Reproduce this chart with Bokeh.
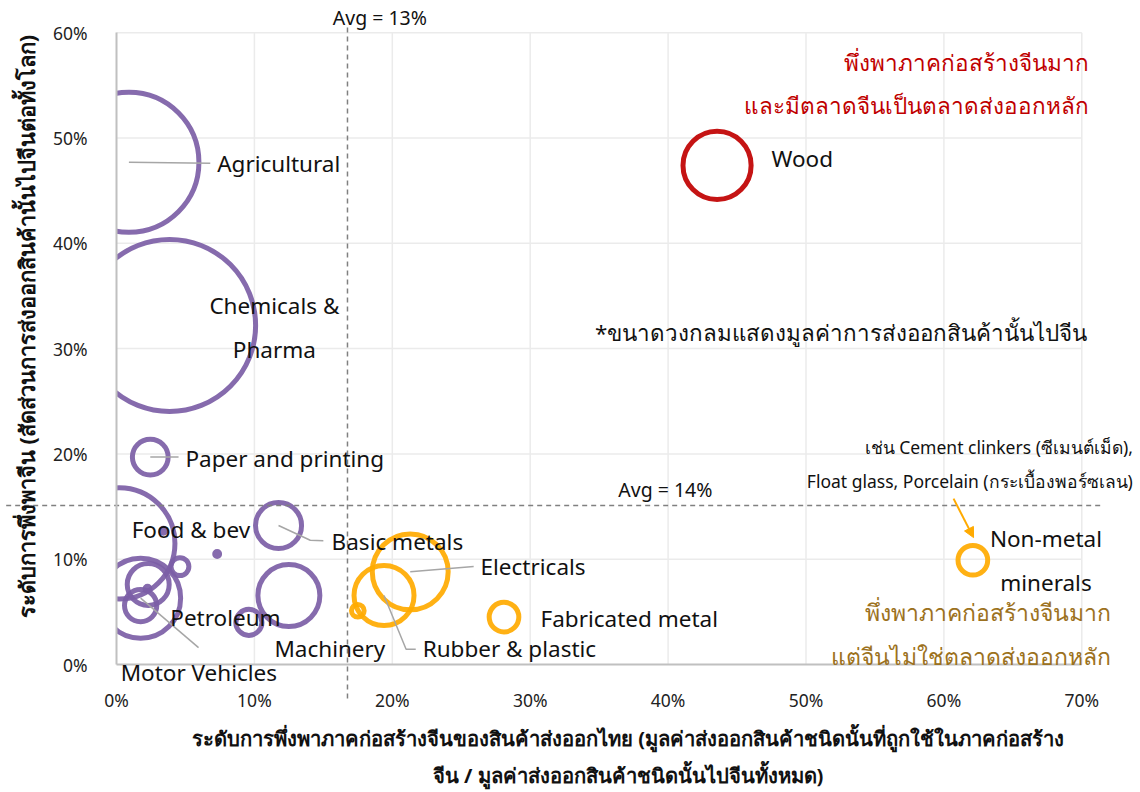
import numpy as np
from bokeh.plotting import figure
from bokeh.models import (Label, Arrow, NormalHead, FixedTicker, PrintfTickFormatter,
                          ColumnDataSource, Range1d, LinearAxis)
from bokeh.embed import file_html
from bokeh.resources import INLINE

# ---------------- data ----------------
sectors = ["Agricultural", "Chemicals & Pharma", "Paper and printing", "Food & bev",
           "Motor Vehicles", "Petroleum", "Other A", "Other B", "Other C", "Other D",
           "Other E", "Basic metals", "Machinery", "Other F", "Other G",
           "Rubber & plastic", "Electricals", "Fabricated metal", "Wood", "Non-metal minerals"]
# x: dependence on China's construction sector (%)
construction_dep = [0.9, 3.85, 2.45, 0.2, 1.75, 1.75, 2.3, 4.6, 3.4, 7.3,
                    2.25, 11.75, 12.5, 9.6, 17.5, 19.4, 21.3, 28.1, 43.55, 62.1]
# y: share of the product's exports going to China (%)
china_share = [47.7, 32.2, 19.7, 11.5, 6.3, 5.6, 7.6, 9.3, 12.7, 10.5,
               7.2, 13.2, 6.55, 4.0, 5.1, 6.55, 8.8, 4.5, 47.4, 9.9]
# export value to China (relative units) -> bubble area
export_value = [4.9, 7.4, 0.32, 3.1, 1.6, 0.26, 0.44, 0.08, 0.006, 0.006,
                0.006, 0.53, 0.96, 0.17, 0.04, 0.9, 1.44, 0.22, 1.16, 0.22]
# group: 0 = low construction dependence, 1 = high dependence / China not main market, 2 = both
group = [0, 0, 0, 0, 0, 0, 0, 0, 0, 0, 0, 0, 0, 0, 1, 1, 1, 1, 2, 1]

x_ticks = [0, 10, 20, 30, 40, 50, 60, 70]
y_ticks = [0, 10, 20, 30, 40, 50, 60]
avg_x_line = 16.75
avg_y_line = 15.1
avg_x_text = "Avg = 13%"
avg_y_text = "Avg = 14%"

# ---------------- layout / styling ----------------
group_colors = ["#7c5ea6", "#ffaa00", "#c00000"]
FONT = "Noto Sans"
W, H = 1136, 790
X0_PX, Y0_PX = 116, 664          # pixel position of the (0%, 0%) corner
PX_PER_X, PX_PER_Y = 13.79, 10.53  # pixels per 1 percentage point

x_lo = -X0_PX / PX_PER_X
x_hi = (W - X0_PX) / PX_PER_X
y_hi = Y0_PX / PX_PER_Y
y_lo = -(H - Y0_PX) / PX_PER_Y

p = figure(width=W, height=H, output_backend="svg", toolbar_location=None,
           x_range=Range1d(x_lo, x_hi), y_range=Range1d(y_lo, y_hi),
           x_axis_type=None, y_axis_type=None, min_border=0)
p.outline_line_color = None
p.background_fill_color = "white"
p.border_fill_color = "white"
p.xgrid.visible = False
p.ygrid.visible = False

# grid lines limited to the plotting area
p.segment(x0=x_ticks[1:], y0=[y_ticks[0]] * (len(x_ticks) - 1),
          x1=x_ticks[1:], y1=[y_ticks[-1]] * (len(x_ticks) - 1),
          line_color="#ebebeb", line_width=1.5)
p.segment(x0=[x_ticks[0]] * (len(y_ticks) - 1), y0=y_ticks[1:],
          x1=[x_ticks[-1]] * (len(y_ticks) - 1), y1=y_ticks[1:],
          line_color="#ebebeb", line_width=1.5)

# axes fixed at 0
xax = LinearAxis(fixed_location=0, bounds=(x_ticks[0], x_ticks[-1]))
yax = LinearAxis(fixed_location=0, bounds=(y_ticks[0], y_ticks[-1]))
for ax, ticks in ((xax, x_ticks), (yax, y_ticks)):
    ax.ticker = FixedTicker(ticks=ticks)
    ax.formatter = PrintfTickFormatter(format="%d%%")
    ax.major_tick_line_color = None
    ax.minor_tick_line_color = None
    ax.axis_line_color = "#c0c0c0"
    ax.axis_line_width = 2
    ax.major_label_text_font = FONT
    ax.major_label_text_font_size = "17.5px"
    ax.major_label_text_color = "#222222"
xax.major_label_standoff = 17
yax.major_label_standoff = 23
p.add_layout(xax, "below")
p.add_layout(yax, "left")

# bubbles
colors = [group_colors[g] for g in group]
sizes = [2 * np.sqrt(1000 * v) for v in export_value]
src = ColumnDataSource(dict(x=construction_dep, y=china_share, c=colors, s=sizes))
p.scatter("x", "y", source=src, marker="circle", size="s", fill_color=None,
          line_color="c", line_width=5, line_alpha=0.92)
# bubbles are cut off at the vertical axis
p.quad(left=x_lo, right=x_ticks[0], bottom=y_ticks[0], top=y_ticks[-1],
       fill_color="white", line_color=None)

# ---------------- labels & leader lines ----------------
def idx(name):
    return sectors.index(name)

label_layout = [  # (text, x, y, align)
    ("Agricultural", 7.3, 47.6, "left"),
    ("Chemicals &", 11.45, 34.1, "center"),
    ("Pharma", 11.45, 29.9, "center"),
    ("Paper and printing", 5.0, 19.6, "left"),
    ("Food & bev", 1.1, 12.8, "left"),
    ("Basic metals", 15.6, 11.7, "left"),
    ("Petroleum", 3.9, 4.45, "left"),
    ("Machinery", 11.45, 1.5, "left"),
    ("Motor Vehicles", 0.3, -0.76, "left"),
    ("Electricals", 26.4, 9.3, "left"),
    ("Rubber & plastic", 22.2, 1.5, "left"),
    ("Fabricated metal", 30.75, 4.37, "left"),
    ("Wood", 47.5, 48.05, "left"),
    ("Non-metal", 67.4, 11.95, "center"),
    ("minerals", 67.4, 7.8, "center"),
]

leader_layout = {  # sector -> intermediate / end points
    "Agricultural": [(6.8, 47.6)],
    "Paper and printing": [(4.5, 19.7)],
    "Basic metals": [(14.05, 11.8), (15.0, 11.75)],
    "Motor Vehicles": [(5.95, 1.6)],
    "Electricals": [(25.9, 9.3)],
    "Rubber & plastic": [(21.0, 1.45), (21.7, 1.45)],
}
xs, ys = [], []
for name, pts in leader_layout.items():
    i = idx(name)
    xs.append([construction_dep[i]] + [q[0] for q in pts])
    ys.append([china_share[i]] + [q[1] for q in pts])
p.multi_line(xs, ys, line_color="#a6a6a6", line_width=1.5)

# average lines (extend beyond plot frame)
p.segment(x0=[avg_x_line], y0=[60.5], x1=[avg_x_line], y1=[-3.4],
          line_color="#808080", line_width=1.5, line_dash="5 4")
p.segment(x0=[-8.0], y0=[avg_y_line], x1=[71.6], y1=[avg_y_line],
          line_color="#808080", line_width=1.5, line_dash="5 4")

for txt, lx, ly, al in label_layout:
    p.add_layout(Label(x=lx, y=ly, text=txt, text_align=al, text_baseline="middle",
                       text_font=FONT, text_font_size="22.5px", text_color="#111111"))

p.add_layout(Label(x=19.1, y=61.4, text=avg_x_text, text_align="center", text_baseline="middle",
                   text_font=FONT, text_font_size="19.5px", text_color="#111111"))
p.add_layout(Label(x=39.8, y=16.6, text=avg_y_text, text_align="center", text_baseline="middle",
                   text_font=FONT, text_font_size="19.5px", text_color="#111111"))

# quadrant notes
for txt, yy in (("พึ่งพาภาคก่อสร้างจีนมาก", 57.2), ("และมีตลาดจีนเป็นตลาดส่งออกหลัก", 53.1)):
    p.add_layout(Label(x=70.5, y=yy, text=txt, text_align="right", text_baseline="middle",
                       text_font=FONT, text_font_size="22.5px", text_color="#c00000"))
for txt, yy in (("พึ่งพาภาคก่อสร้างจีนมาก", 4.95), ("แต่จีนไม่ใช่ตลาดส่งออกหลัก", 0.78)):
    p.add_layout(Label(x=72.1, y=yy, text=txt, text_align="right", text_baseline="middle",
                       text_font=FONT, text_font_size="23px", text_color="#9c7120"))
p.add_layout(Label(x=70.4, y=31.5, text="*ขนาดวงกลมแสดงมูลค่าการส่งออกสินค้านั้นไปจีน",
                   text_align="right", text_baseline="middle",
                   text_font=FONT, text_font_size="22.4px", text_color="#111111"))
for txt, yy in (("เช่น Cement clinkers (ซีเมนต์เม็ด),", 20.7),
                ("Float glass, Porcelain (กระเบื้องพอร์ซเลน)", 17.4)):
    p.add_layout(Label(x=73.7, y=yy, text=txt, text_align="right", text_baseline="middle",
                       text_font=FONT, text_font_size="17.5px", text_color="#111111"))
nm = idx("Non-metal minerals")
p.add_layout(Arrow(x_start=60.7, y_start=15.75, x_end=construction_dep[nm] + 0.05,
                   y_end=china_share[nm] + 2.15, line_color="#ffaa00", line_width=2,
                   end=NormalHead(size=10, fill_color="#ffaa00", line_color="#ffaa00")))

# axis titles
p.add_layout(Label(x=37.1, y=-7.0,
                   text="ระดับการพึ่งพาภาคก่อสร้างจีนของสินค้าส่งออกไทย (มูลค่าส่งออกสินค้าชนิดนั้นที่ถูกใช้ในภาคก่อสร้าง",
                   text_align="center", text_baseline="middle", text_font=FONT,
                   text_font_size="20.2px", text_font_style="bold", text_color="#111111"))
p.add_layout(Label(x=37.1, y=-10.5, text="จีน / มูลค่าส่งออกสินค้าชนิดนั้นไปจีนทั้งหมด)",
                   text_align="center", text_baseline="middle", text_font=FONT,
                   text_font_size="20.2px", text_font_style="bold", text_color="#111111"))
p.add_layout(Label(x=-6.5, y=32.1, angle=np.pi / 2,
                   text="ระดับการพึ่งพาจีน (สัดส่วนการส่งออกสินค้านั้นไปจีนต่อทั้งโลก)",
                   text_align="center", text_baseline="middle", text_font=FONT,
                   text_font_size="21.8px", text_font_style="bold", text_color="#111111"))

open("out.html", "w").write(file_html(p, INLINE))
